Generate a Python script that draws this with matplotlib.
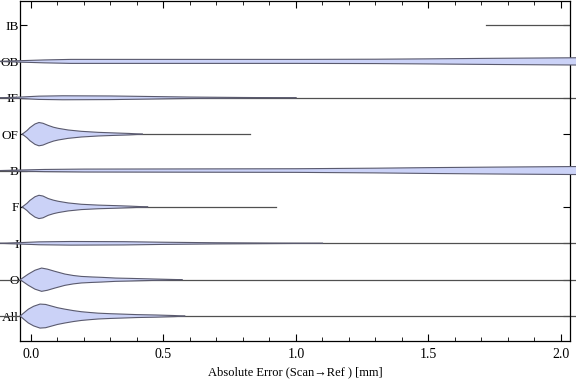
import numpy as np
import matplotlib
matplotlib.use("Agg")
import matplotlib.pyplot as plt
from matplotlib.ticker import MultipleLocator

plt.rcParams['font.family'] = ['Liberation Serif', 'DejaVu Serif']

categories = ["All", "O", "I", "F", "B", "OF", "IF", "OB", "IB"]

# violin profiles: (error in mm, half width in category units)
profiles = {
    "All": [(-0.041, 0), (-0.025, 0.10), (-0.01, 0.19), (0.01, 0.27), (0.034, 0.33),
            (0.055, 0.32), (0.075, 0.28), (0.10, 0.23), (0.128, 0.19), (0.16, 0.15),
            (0.19, 0.12), (0.22, 0.10), (0.254, 0.08), (0.30, 0.065), (0.342, 0.055),
            (0.40, 0.04), (0.47, 0.03), (0.54, 0.015), (0.58, 0)],
    "O": [(-0.041, 0), (-0.025, 0.08), (-0.01, 0.155), (0.015, 0.26), (0.04, 0.32),
          (0.062, 0.29), (0.09, 0.23), (0.128, 0.155), (0.16, 0.115), (0.19, 0.09),
          (0.23, 0.075), (0.266, 0.065), (0.32, 0.045), (0.38, 0.035), (0.46, 0.02),
          (0.57, 0)],
    "I": [(-0.117, 0), (-0.04, 0.02), (0.03, 0.04), (0.15, 0.05), (0.35, 0.045),
          (0.5, 0.03), (0.7, 0.015), (0.95, 0.005), (1.1, 0)],
    "F": [(-0.033, 0), (-0.015, 0.10), (-0.004, 0.18), (0.015, 0.28), (0.03, 0.32),
          (0.045, 0.30), (0.065, 0.23), (0.085, 0.185), (0.103, 0.155), (0.14, 0.11),
          (0.19, 0.073), (0.254, 0.05), (0.317, 0.036), (0.38, 0.02), (0.44, 0)],
    "B": [(-0.117, 0), (-0.04, 0.015), (0.05, 0.03), (0.2, 0.04), (0.6, 0.045),
          (1.0, 0.05), (1.3, 0.065), (1.5, 0.08), (1.75, 0.095), (2.06, 0.11)],
    "OF": [(-0.033, 0), (-0.015, 0.10), (-0.004, 0.18), (0.015, 0.28), (0.03, 0.32),
           (0.045, 0.30), (0.065, 0.24), (0.085, 0.19), (0.103, 0.16), (0.14, 0.115),
           (0.19, 0.078), (0.254, 0.05), (0.317, 0.033), (0.37, 0.02), (0.42, 0)],
    "IF": [(-0.117, 0), (-0.04, 0.02), (0.03, 0.045), (0.12, 0.055), (0.3, 0.05),
           (0.45, 0.035), (0.6, 0.02), (0.8, 0.008), (1.0, 0)],
    "OB": [(-0.117, 0), (-0.04, 0.02), (0.05, 0.04), (0.15, 0.055), (0.5, 0.055),
           (1.0, 0.055), (1.3, 0.06), (1.5, 0.07), (1.75, 0.085), (2.06, 0.1)],
    "IB": [],
}

# extent of the thin tail line for each category
line_start = [-0.117, -0.117, -0.117, -0.033, -0.117, -0.033, -0.117, -0.117, 1.717]
line_end = [2.06, 2.06, 2.06, 0.925, 2.06, 0.826, 2.06, 2.06, 2.03]

xticks = [0.0, 0.5, 1.0, 1.5, 2.0]
xtick_labels = ["0.0", "0.5", "1.0", "1.5", "2.0"]

fig = plt.figure(figsize=(5.76, 3.81), dpi=100)
ax = fig.add_axes([20 / 576, 40 / 381, 550 / 576, 340 / 381])

fill = "#cbd2f7"
edge = "#5a5a6e"

for i, cat in enumerate(categories):
    y = i + 1
    ax.plot([line_start[i], line_end[i]], [y, y], color="#505050", lw=0.9,
            clip_on=False, zorder=2)
    prof = profiles[cat]
    if prof:
        xs = np.array([p[0] for p in prof])
        ws = np.array([p[1] for p in prof])
        ax.fill_between(xs, y - ws, y + ws, facecolor=fill, edgecolor="none",
                        clip_on=False, zorder=3)
        ax.plot(xs, y + ws, color=edge, lw=0.8, clip_on=False, zorder=4)
        ax.plot(xs, y - ws, color=edge, lw=0.8, clip_on=False, zorder=4)

ax.set_xlim(-0.0415, 2.034)
ax.set_ylim(0.315, 9.66)

ax.set_xticks(xticks)
ax.set_xticklabels(xtick_labels)
ax.xaxis.set_minor_locator(MultipleLocator(0.1))
ax.set_yticks(range(1, len(categories) + 1))
ax.set_yticklabels(categories)

ax.tick_params(which="major", direction="in", length=5, width=0.8,
               top=True, right=True, colors="black")
ax.tick_params(which="minor", direction="in", length=3, width=0.6, top=True)
ax.tick_params(axis="x", pad=5, labelsize=10)
ax.tick_params(axis="y", pad=1, labelsize=9.5)
for s in ax.spines.values():
    s.set_linewidth(0.9)

ax.set_xlabel("Absolute Error (Scan\u2192Ref ) [mm]", fontsize=9, labelpad=4)

fig.savefig("out.png", dpi=100)
